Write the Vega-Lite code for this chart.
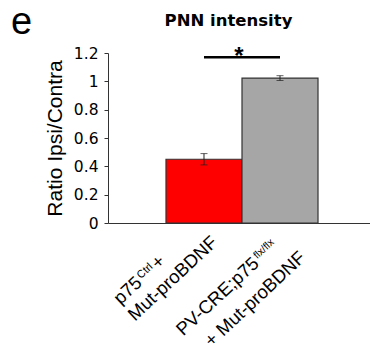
{
  "$schema": "https://vega.github.io/schema/vega-lite/v6.json",
  "width": 268,
  "height": 170,
  "autosize": "none",
  "padding": {"left": 108, "top": 53, "right": 0, "bottom": 124},
  "background": "white",
  "config": {"view": {"stroke": null}},
  "datasets": {
    "bars": [
      {"group": "control", "ratio": 0.45, "lower": 0.41, "upper": 0.49},
      {"group": "knockout", "ratio": 1.023, "lower": 1.006, "upper": 1.04}
    ],
    "sig": [
      {"from": "control", "to": "knockout", "level": 1.17, "star": "*"}
    ],
    "xlabels": [
      {"group": "control", "part": "l1", "text": "p75"},
      {"group": "control", "part": "sup", "text": "Ctrl"},
      {"group": "control", "part": "plus", "text": "+"},
      {"group": "control", "part": "l2", "text": "Mut-proBDNF"},
      {"group": "knockout", "part": "l1", "text": "PV-CRE;p75"},
      {"group": "knockout", "part": "sup", "text": "flx/flx"},
      {"group": "knockout", "part": "l2", "text": "+ Mut-proBDNF"}
    ]
  },
  "resolve": {"axis": {"x": "independent", "y": "independent"}},
  "layer": [
    {
      "data": {"name": "bars"},
      "mark": {"type": "bar", "stroke": "#333333", "strokeWidth": 1.2},
      "encoding": {
        "x": {
          "field": "group", "type": "nominal",
          "scale": {"domain": ["control", "knockout"], "paddingInner": 0, "paddingOuter": 0.763},
          "axis": {
            "domain": true, "domainColor": "#333333", "ticks": false, "labels": false,
            "title": "e", "titleFont": "Liberation Sans", "titleFontSize": 38, "titleFontWeight": "normal",
            "titleColor": "black", "titleX": -97.5, "titleY": -190, "titleAlign": "left",
            "titleBaseline": "alphabetic", "titleAngle": 0
          }
        },
        "y": {
          "field": "ratio", "type": "quantitative", "title": "Ratio Ipsi/Contra",
          "scale": {"domain": [0, 1.2], "nice": false},
          "axis": {
            "values": [0, 0.2, 0.4, 0.6, 0.8, 1, 1.2], "format": ".1~f", "grid": false,
            "labelOverlap": false,
            "domainColor": "#333333", "tickColor": "#333333", "tickSize": 4, "labelPadding": 6,
            "labelFont": "DejaVu Sans", "labelFontSize": 15.5, "labelColor": "black",
            "titleFont": "Liberation Sans", "titleFontSize": 21,
            "titleFontWeight": "normal", "titleColor": "black", "titleAngle": 270,
            "titleAlign": "center", "titleBaseline": "alphabetic", "titleX": -47, "titleY": 85
          }
        },
        "fill": {
          "field": "group", "type": "nominal",
          "scale": {"domain": ["control", "knockout"], "range": ["#ff0000", "#a6a6a6"]},
          "legend": null
        }
      }
    },
    {
      "data": {"name": "bars"},
      "mark": {"type": "rule", "stroke": "#222222", "strokeWidth": 1},
      "encoding": {
        "x": {"field": "group", "type": "nominal", "axis": null},
        "y": {"field": "lower", "type": "quantitative", "axis": null},
        "y2": {"field": "upper"}
      }
    },
    {
      "data": {"name": "bars"},
      "mark": {"type": "tick", "color": "#222222", "size": 7, "thickness": 1},
      "encoding": {
        "x": {"field": "group", "type": "nominal", "axis": null},
        "y": {"field": "lower", "type": "quantitative", "axis": null}
      }
    },
    {
      "data": {"name": "bars"},
      "mark": {"type": "tick", "color": "#222222", "size": 7, "thickness": 1},
      "encoding": {
        "x": {"field": "group", "type": "nominal", "axis": null},
        "y": {"field": "upper", "type": "quantitative", "axis": null}
      }
    },
    {
      "data": {"name": "sig"},
      "mark": {"type": "rule", "stroke": "black", "strokeWidth": 2.6},
      "encoding": {
        "x": {
          "field": "from", "type": "nominal",
          "axis": {
            "orient": "top", "domain": false, "ticks": false, "labels": false,
            "title": "PNN intensity", "titleFont": "DejaVu Sans", "titleFontSize": 16.5,
            "titleFontWeight": "bold", "titleColor": "black", "titleX": 120, "titleY": -28,
            "titleAlign": "center", "titleBaseline": "alphabetic", "titleAngle": 0
          }
        },
        "x2": {"field": "to"},
        "y": {"field": "level", "type": "quantitative", "axis": null}
      }
    },
    {
      "data": {"name": "sig"},
      "mark": {"type": "text", "font": "Liberation Sans", "fontWeight": "bold", "fontSize": 24, "align": "center", "baseline": "alphabetic", "dx": -3, "dy": 7, "color": "black"},
      "encoding": {
        "x": {"field": "from", "type": "nominal", "bandPosition": 1, "axis": null},
        "y": {"field": "level", "type": "quantitative", "axis": null},
        "text": {"field": "star"}
      }
    },
    {
      "data": {"name": "xlabels"},
      "transform": [{"filter": "datum.group === 'control' && datum.part === 'l1'"}],
      "mark": {"type": "text", "font": "Liberation Sans", "fontSize": 18.5, "angle": 317, "align": "left", "baseline": "alphabetic", "dx": -117.2, "dy": 3.3, "color": "black"},
      "encoding": {
        "x": {"field": "group", "type": "nominal", "axis": null},
        "y": {"datum": 0, "type": "quantitative", "axis": null},
        "text": {"field": "text"}
      }
    },
    {
      "data": {"name": "xlabels"},
      "transform": [{"filter": "datum.group === 'control' && datum.part === 'sup'"}],
      "mark": {"type": "text", "font": "Liberation Sans", "fontSize": 11, "angle": 317, "align": "left", "baseline": "alphabetic", "dx": -84.5, "dy": -2, "color": "black"},
      "encoding": {
        "x": {"field": "group", "type": "nominal", "axis": null},
        "y": {"datum": 0, "type": "quantitative", "axis": null},
        "text": {"field": "text"}
      }
    },
    {
      "data": {"name": "xlabels"},
      "transform": [{"filter": "datum.group === 'control' && datum.part === 'plus'"}],
      "mark": {"type": "text", "font": "Liberation Sans", "fontSize": 18.5, "angle": 317, "align": "left", "baseline": "alphabetic", "dx": -65.5, "dy": 3.3, "color": "black"},
      "encoding": {
        "x": {"field": "group", "type": "nominal", "axis": null},
        "y": {"datum": 0, "type": "quantitative", "axis": null},
        "text": {"field": "text"}
      }
    },
    {
      "data": {"name": "xlabels"},
      "transform": [{"filter": "datum.group === 'control' && datum.part === 'l2'"}],
      "mark": {"type": "text", "font": "Liberation Sans", "fontSize": 18.5, "angle": 317, "align": "left", "baseline": "alphabetic", "dx": -117.7, "dy": 25.1, "color": "black"},
      "encoding": {
        "x": {"field": "group", "type": "nominal", "axis": null},
        "y": {"datum": 0, "type": "quantitative", "axis": null},
        "text": {"field": "text"}
      }
    },
    {
      "data": {"name": "xlabels"},
      "transform": [{"filter": "datum.group === 'knockout' && datum.part === 'l1'"}],
      "mark": {"type": "text", "font": "Liberation Sans", "fontSize": 18.5, "angle": 317, "align": "left", "baseline": "alphabetic", "dx": -148.2, "dy": 17.1, "color": "black"},
      "encoding": {
        "x": {"field": "group", "type": "nominal", "axis": null},
        "y": {"datum": 0, "type": "quantitative", "axis": null},
        "text": {"field": "text"}
      }
    },
    {
      "data": {"name": "xlabels"},
      "transform": [{"filter": "datum.group === 'knockout' && datum.part === 'sup'"}],
      "mark": {"type": "text", "font": "Liberation Sans", "fontSize": 10.5, "angle": 317, "align": "left", "baseline": "alphabetic", "dx": -41.5, "dy": 11, "color": "black"},
      "encoding": {
        "x": {"field": "group", "type": "nominal", "axis": null},
        "y": {"datum": 0, "type": "quantitative", "axis": null},
        "text": {"field": "text"}
      }
    },
    {
      "data": {"name": "xlabels"},
      "transform": [{"filter": "datum.group === 'knockout' && datum.part === 'l2'"}],
      "mark": {"type": "text", "font": "Liberation Sans", "fontSize": 18.5, "angle": 317, "align": "left", "baseline": "alphabetic", "dx": -135.2, "dy": 44.5, "color": "black"},
      "encoding": {
        "x": {"field": "group", "type": "nominal", "axis": null},
        "y": {"datum": 0, "type": "quantitative", "axis": null},
        "text": {"field": "text"}
      }
    }
  ]
}
